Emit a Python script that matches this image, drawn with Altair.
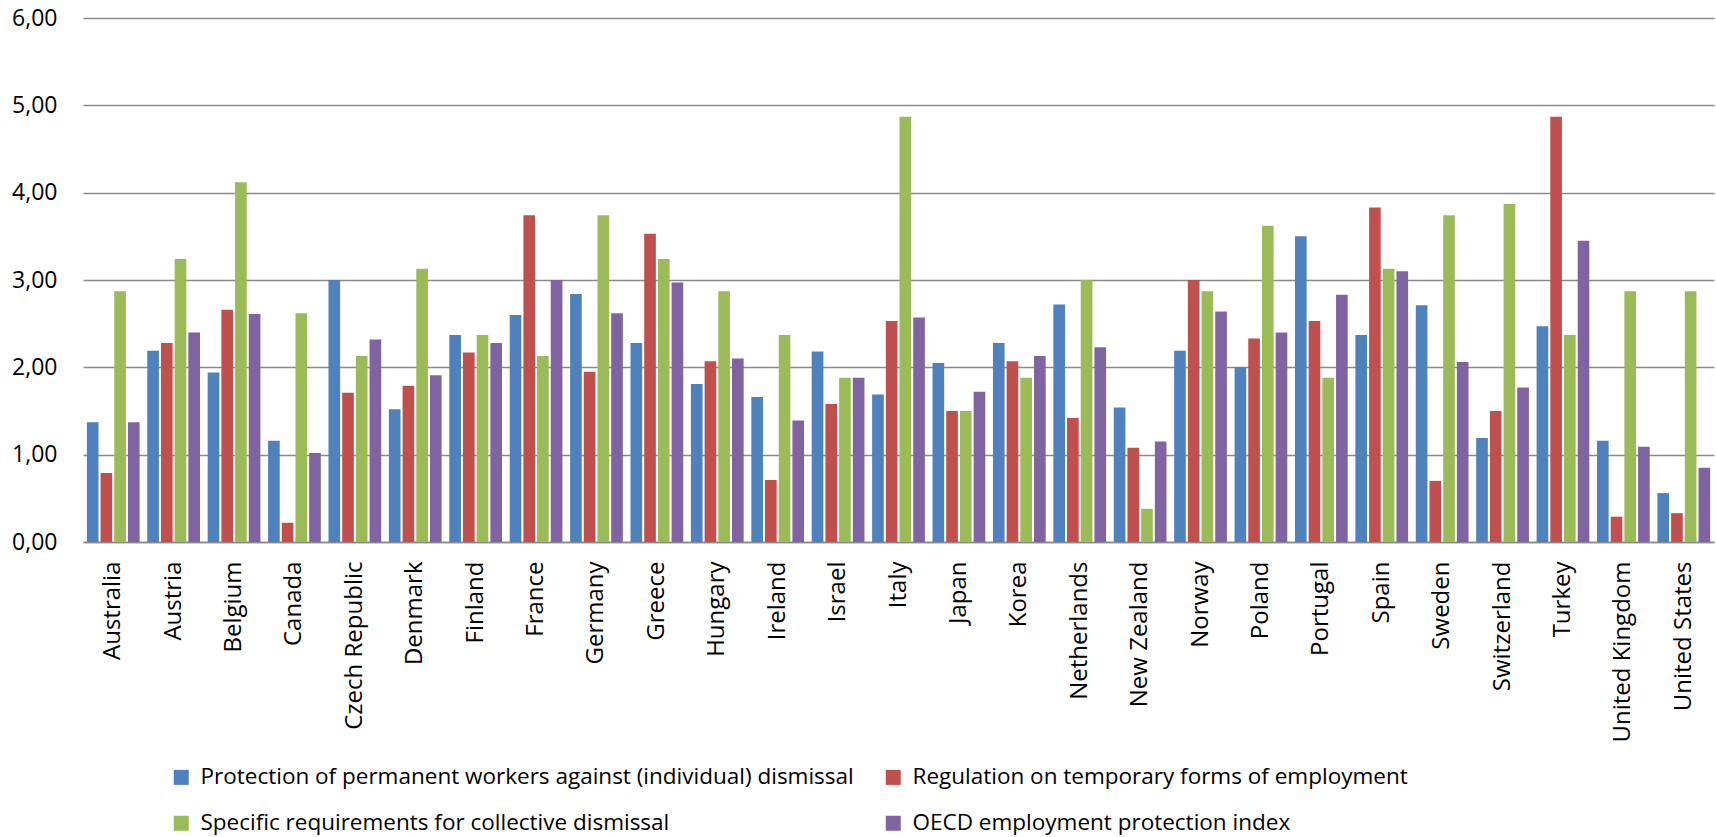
import altair as alt
import pandas as pd

countries = [
    "Australia", "Austria", "Belgium", "Canada", "Czech Republic", "Denmark",
    "Finland", "France", "Germany", "Greece", "Hungary", "Ireland", "Israel",
    "Italy", "Japan", "Korea", "Netherlands", "New Zealand", "Norway", "Poland",
    "Portugal", "Spain", "Sweden", "Switzerland", "Turkey", "United Kingdom",
    "United States",
]

series_names = [
    "Protection of permanent workers against (individual) dismissal",
    "Regulation on temporary forms of employment",
    "Specific requirements for collective dismissal",
    "OECD employment protection index",
]

permanent = [1.37, 2.19, 1.94, 1.16, 3.00, 1.52, 2.37, 2.60, 2.84, 2.28, 1.81, 1.66, 2.18,
             1.69, 2.05, 2.28, 2.72, 1.54, 2.19, 2.00, 3.50, 2.37, 2.71, 1.19, 2.47, 1.16, 0.56]
temporary = [0.79, 2.28, 2.66, 0.22, 1.71, 1.79, 2.17, 3.74, 1.95, 3.53, 2.07, 0.71, 1.58,
             2.53, 1.50, 2.07, 1.42, 1.08, 3.00, 2.33, 2.53, 3.83, 0.70, 1.50, 4.87, 0.29, 0.33]
collective = [2.87, 3.24, 4.12, 2.62, 2.13, 3.13, 2.37, 2.13, 3.74, 3.24, 2.87, 2.37, 1.88,
              4.87, 1.50, 1.88, 3.00, 0.38, 2.87, 3.62, 1.88, 3.13, 3.74, 3.87, 2.37, 2.87, 2.87]
oecd_index = [1.37, 2.40, 2.61, 1.02, 2.32, 1.91, 2.28, 3.00, 2.62, 2.97, 2.10, 1.39, 1.88,
              2.57, 1.72, 2.13, 2.23, 1.15, 2.64, 2.40, 2.83, 3.10, 2.06, 1.77, 3.45, 1.09, 0.85]

series_colors = ["#4F81BD", "#C0504D", "#9BBB59", "#8064A2"]
y_ticks = [0, 1, 2, 3, 4, 5, 6]

rows = []
for name, values in zip(series_names, [permanent, temporary, collective, oecd_index]):
    for country, v in zip(countries, values):
        rows.append({"country": country, "series": name, "value": v})
df = pd.DataFrame(rows)

font = "Open Sans"

bars = alt.Chart(df).mark_bar().encode(
    x=alt.X(
        "country:N",
        sort=countries,
        title=None,
        scale=alt.Scale(paddingInner=0.127, paddingOuter=0.064),
        axis=alt.Axis(
            labelAngle=-90,
            labelFontSize=24,
            labelFont=font,
            labelColor="#000000",
            labelPadding=19,
            ticks=False,
            domain=True,
            domainColor="#8a8a8a",
            domainWidth=1.6,
            labelLimit=300,
        ),
    ),
    xOffset=alt.XOffset(
        "series:N",
        sort=series_names,
        scale=alt.Scale(paddingInner=0.15, paddingOuter=0),
    ),
    y=alt.Y(
        "value:Q",
        title=None,
        scale=alt.Scale(domain=[0, 6], nice=False),
        axis=alt.Axis(
            values=y_ticks,
            labelExpr="replace(format(datum.value, '.2f'), '.', ',')",
            labelFontSize=23,
            labelFont=font,
            labelColor="#000000",
            labelPadding=26,
            ticks=False,
            domain=False,
            grid=True,
            gridColor="#8a8a8a",
            gridWidth=1.6,
        ),
    ),
    color=alt.Color(
        "series:N",
        sort=series_names,
        scale=alt.Scale(domain=series_names, range=series_colors),
        legend=alt.Legend(
            title=None,
            orient="none",
            legendX=87,
            legendY=748,
            direction="horizontal",
            columns=2,
            symbolType="square",
            symbolSize=225,
            symbolStrokeWidth=0,
            labelFont=font,
            labelFontSize=22.5,
            labelColor="#000000",
            labelOffset=8,
            labelLimit=1000,
            columnPadding=28,
            rowPadding=23,
        ),
    ),
).properties(
    width=1631,
    height=524,
)

chart = bars.properties(
    autosize=alt.AutoSizeParams(type="none"),
    padding={"left": 83, "top": 18, "right": 2, "bottom": 295},
    background="#ffffff",
).configure_view(strokeWidth=0)

chart.save("out.html", embed_options={"renderer": "svg", "actions": False})
